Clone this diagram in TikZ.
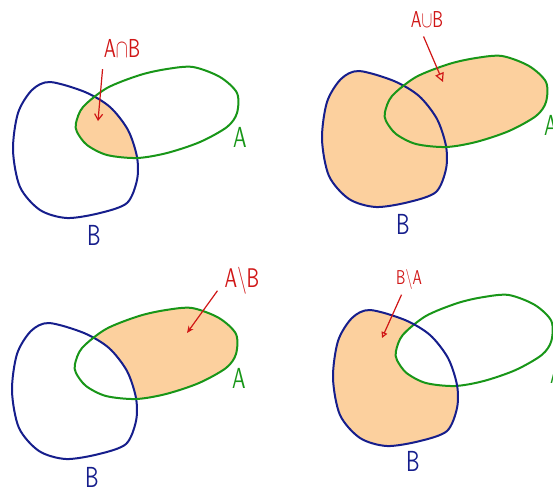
\documentclass[tikz,border=0pt]{standalone}
\usepackage{tikz}
\usetikzlibrary{
    arrows.meta,
    positioning
}
\definecolor{setblue}{RGB}{22,30,140}
\definecolor{setgreen}{RGB}{24,150,24}
\definecolor{markred}{RGB}{208,22,22}
\definecolor{shadeorange}{RGB}{252,208,158}
\newcommand{\hand}[2]{\scalebox{0.7}[1]{\scalebox{#1}{$\mathsf{#2}$}}}
\tikzstyle{setA} = [draw=setgreen, line width=2pt]
\tikzstyle{setB} = [draw=setblue, line width=2pt]
\tikzstyle{shade} = [fill=shadeorange]
\tikzstyle{oplab} = [text=markred, inner sep=0pt]
\tikzstyle{nameA} = [text=setgreen, inner sep=0pt]
\tikzstyle{nameB} = [text=setblue, inner sep=0pt]
\tikzstyle{ptr} = [draw=markred, line width=1.2pt]

\begin{document}
\begin{tikzpicture}[x=1pt, y=-1pt]
\useasboundingbox (0,0) rectangle (553,491);

% Formas
\def\Bblob{plot[smooth cycle] coordinates {(-25,-68) (10,-58) (35,-43) (53,-20) (62,7) (62,30) (52,53) (25,63) (-8,68) (-35,60) (-55,37) (-62,0) (-57,-37) (-43,-60)}}
\def\Aoval{plot[smooth cycle] coordinates {(1,-27) (8,-43) (32,-62) (65,-75) (92,-81) (118,-83) (145,-73) (162,-57) (162,-37) (152,-23) (125,-8) (92,3) (62,8) (32,5) (12,-5) (2,-18)}}

% Interseccion
\begin{scope}[shift={(75,150)}]
  \begin{scope}
    \clip \Bblob;
    \fill[shade] \Aoval;
  \end{scope}
  \draw[setB] \Bblob;
  \draw[setA] \Aoval;
\end{scope}

% Union
\begin{scope}[shift={(384,139)}]
  \fill[shade] \Bblob;
  \fill[shade] \Aoval;
  \draw[setB] \Bblob;
  \draw[setA] \Aoval;
\end{scope}

% A menos B
\begin{scope}[shift={(74,391)}]
  \fill[shade] \Aoval;
  \fill[white] \Bblob;
  \draw[setB] \Bblob;
  \draw[setA] \Aoval;
\end{scope}

% B menos A
\begin{scope}[shift={(395,378)}]
  \fill[shade] \Bblob;
  \begin{scope}[xscale=0.965]
    \fill[white] \Aoval;
    \draw[setA] \Aoval;
  \end{scope}
  \draw[setB] \Bblob;
\end{scope}

% Etiquetas
\node[oplab] (capLab) at (122,48) {\hand{2.6}{A{\cap}B}};
\node[oplab] (cupLab) at (427,20) {\hand{2.3}{A{\cup}B}};
\node[oplab] (difLab) at (242,281) {\hand{2.7}{A{\setminus}B}};
\node[oplab] (rdifLab) at (409,279) {\hand{2.0}{B{\setminus}A}};

\node[nameA] (Aone) at (240,137) {\hand{2.9}{A}};
\node[nameB] (Bone) at (94,235) {\hand{2.9}{B}};
\node[nameA] (Atwo) at (551,125) {\hand{2.9}{A}};
\node[nameB] (Btwo) at (403,224) {\hand{2.9}{B}};
\node[nameA] (Athree) at (239,378) {\hand{2.9}{A}};
\node[nameB] (Bthree) at (92,477) {\hand{2.9}{B}};
\node[nameA] (Afour) at (557,373) {\hand{2.9}{A}};
\node[nameB] (Bfour) at (413,461) {\hand{2.9}{B}};

% Flechas
\coordinate (capTip) at (98,121);
\coordinate (cupTip) at (443,82);
\coordinate (difTip) at (187,333);
\coordinate (rdifTip) at (382,338);
\draw[ptr, -{Straight Barb[length=6pt,width=8pt]}, shorten <=12pt] (capLab.south west) -- (capTip);
\draw[ptr, -{Triangle[open,length=9pt,width=9pt]}, shorten <=9pt] ([xshift=-7pt]cupLab.south) -- (cupTip);
\draw[ptr, -{Stealth[length=7pt,width=6pt]}, shorten <=12pt] (difLab.west) -- (difTip);
\draw[ptr, -{Triangle[open,length=6pt,width=6pt]}, shorten <=6pt] ([xshift=-5pt]rdifLab.south) -- (rdifTip);

\end{tikzpicture}
\end{document}
